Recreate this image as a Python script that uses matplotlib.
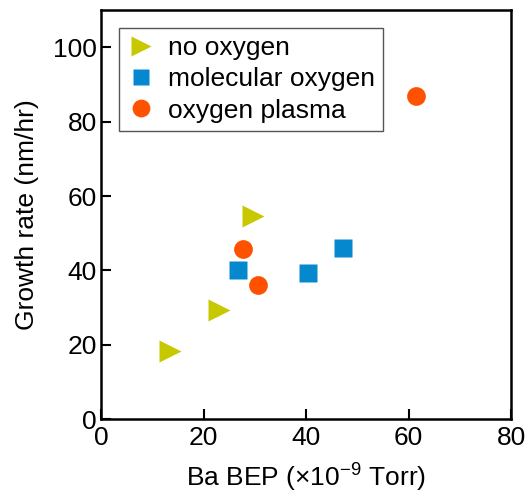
import numpy as np
import matplotlib
matplotlib.use("Agg")
import matplotlib.pyplot as plt

plt.rcParams['font.family'] = ['Liberation Sans', 'DejaVu Sans']
plt.rcParams['mathtext.fontset'] = 'custom'
plt.rcParams['mathtext.rm'] = 'Liberation Sans'
plt.rcParams['mathtext.it'] = 'Liberation Sans'
plt.rcParams['mathtext.default'] = 'regular'

# dados
x_no_oxy = [13.5, 23.0, 29.7]
y_no_oxy = [18.4, 29.5, 54.6]

x_mol_oxy = [26.8, 40.3, 47.2]
y_mol_oxy = [40.0, 39.3, 46.0]

x_plasma = [27.8, 30.7, 61.5]
y_plasma = [45.9, 36.0, 86.8]

labels = ["no oxygen", "molecular oxygen", "oxygen plasma"]

fs = 19

fig = plt.figure(figsize=(5.26, 4.98), dpi=100)
ax = fig.add_axes([101/526, (498-419.3)/498, 410/526, 409.3/498])

ax.plot(x_no_oxy, y_no_oxy, linestyle='none', marker='>', ms=15.5,
        color='#c8c800', mec='none', label=labels[0])
ax.plot(x_mol_oxy, y_mol_oxy, linestyle='none', marker='s', ms=12.5,
        color='#0688cf', mec='none', label=labels[1])
ax.plot(x_plasma, y_plasma, linestyle='none', marker='o', ms=13.5,
        color='#ff5200', mec='none', label=labels[2])

ax.set_xlim(0, 80)
ax.set_ylim(0, 110)
ax.set_xticks(np.arange(0, 81, 20))
ax.set_yticks(np.arange(0, 101, 20))
ax.tick_params(direction='in', length=7, width=1.5, labelsize=fs, pad=3,
               top=False, right=False)
ax.tick_params(axis='x', pad=5)
for s in ax.spines.values():
    s.set_linewidth(1.8)

ax.set_xlabel("Ba BEP (×10$^{-9}$ Torr)", fontsize=fs, labelpad=8)
ax.set_ylabel("Growth rate (nm/hr)", fontsize=fs, labelpad=10)

leg = ax.legend(loc='upper left', bbox_to_anchor=(0.045, 0.956),
                borderaxespad=0, fontsize=fs, fancybox=False,
                edgecolor='#555555', framealpha=1, markerscale=0.95,
                handlelength=1.0, handletextpad=0.55, labelspacing=0.28,
                borderpad=0.3)
leg.get_frame().set_linewidth(1.0)

plt.savefig("out.png", dpi=100)
